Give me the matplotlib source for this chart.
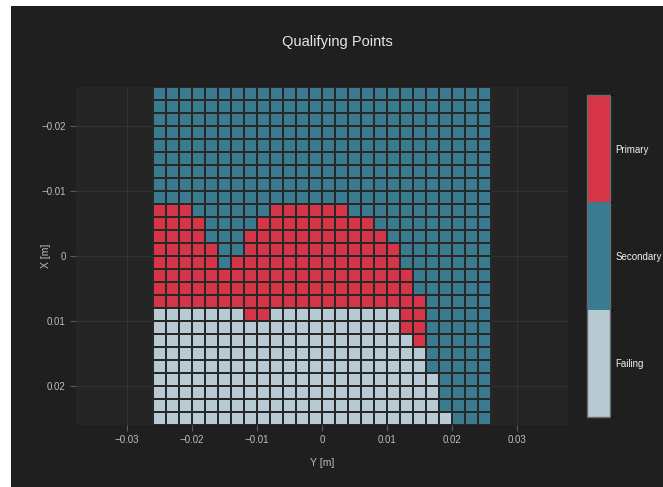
import matplotlib
matplotlib.use("Agg")
import matplotlib.pyplot as plt
import numpy as np
from matplotlib.colors import ListedColormap, BoundaryNorm
from matplotlib.patches import Rectangle

# grid coordinates (cell centres, metres)
y_pos = np.round(np.arange(-0.025, 0.0251, 0.002), 3)   # horizontal axis, "Y [m]"
x_pos = np.round(np.arange(-0.025, 0.0251, 0.002), 3)   # vertical axis, "X [m]"

class_names = ["Failing", "Secondary", "Primary"]
class_colors = ["#b8cad4", "#3b7b90", "#d63547"]

# F = Failing, S = Secondary, P = Primary ; one string per X row (top -> bottom)
rows = [
    "SSSSSSSSSSSSSSSSSSSSSSSSSS",
    "SSSSSSSSSSSSSSSSSSSSSSSSSS",
    "SSSSSSSSSSSSSSSSSSSSSSSSSS",
    "SSSSSSSSSSSSSSSSSSSSSSSSSS",
    "SSSSSSSSSSSSSSSSSSSSSSSSSS",
    "SSSSSSSSSSSSSSSSSSSSSSSSSS",
    "SSSSSSSSSSSSSSSSSSSSSSSSSS",
    "SSSSSSSSSSSSSSSSSSSSSSSSSS",
    "SSSSSSSSSSSSSSSSSSSSSSSSSS",
    "PPPSSSSSSPPPPPPSSSSSSSSSSS",
    "PPPPSSSSPPPPPPPPPSSSSSSSSS",
    "PPPPSSSPPPPPPPPPPPSSSSSSSS",
    "PPPPPSSPPPPPPPPPPPPSSSSSSS",
    "PPPPPSPPPPPPPPPPPPPSSSSSSS",
    "PPPPPPPPPPPPPPPPPPPPSSSSSS",
    "PPPPPPPPPPPPPPPPPPPPSSSSSS",
    "PPPPPPPPPPPPPPPPPPPPPSSSSS",
    "FFFFFFFPPFFFFFFFFFFPPSSSSS",
    "FFFFFFFFFFFFFFFFFFFPPSSSSS",
    "FFFFFFFFFFFFFFFFFFFFPSSSSS",
    "FFFFFFFFFFFFFFFFFFFFFSSSSS",
    "FFFFFFFFFFFFFFFFFFFFFSSSSS",
    "FFFFFFFFFFFFFFFFFFFFFFSSSS",
    "FFFFFFFFFFFFFFFFFFFFFFSSSS",
    "FFFFFFFFFFFFFFFFFFFFFFSSSS",
    "FFFFFFFFFFFFFFFFFFFFFFFSSS",
]
code = {"F": 0, "S": 1, "P": 2}

x_ticks = [-0.03, -0.02, -0.01, 0, 0.01, 0.02, 0.03]
x_tick_labels = ["\u22120.03", "\u22120.02", "\u22120.01", "0", "0.01", "0.02", "0.03"]
y_ticks = [-0.02, -0.01, 0, 0.01, 0.02]
y_tick_labels = ["\u22120.02", "\u22120.01", "0", "0.01", "0.02"]

if __name__ == "__main__":
    z = np.array([[code[c] for c in r] for r in rows])

    paper = "#1f1f1f"
    plot_bg = "#252525"
    text_c = "#bdbdbd"
    plt.rcParams["font.family"] = ["Liberation Sans", "DejaVu Sans"]

    fig = plt.figure(figsize=(6.63, 4.87), dpi=100)
    fig.patch.set_facecolor("white")
    fig.add_artist(Rectangle((11 / 663, 0), 1, 481 / 487, transform=fig.transFigure,
                             facecolor=paper, edgecolor="none", zorder=-10))

    """-----------PLOT-----------"""
    ax = fig.add_axes([76 / 663, 62 / 487, 492 / 663, 338 / 487])
    ax.set_facecolor(plot_bg)

    cmap = ListedColormap(class_colors)
    norm = BoundaryNorm([-0.5, 0.5, 1.5, 2.5], cmap.N)
    ax.pcolormesh(y_pos, x_pos, z, cmap=cmap, norm=norm, shading="nearest",
                  edgecolors="#282828", linewidth=1.4, zorder=2)

    ax.set_xlim(-0.0378, 0.0378)
    ax.set_ylim(0.026, -0.026)

    ax.set_xticks(x_ticks, labels=x_tick_labels)
    ax.set_yticks(y_ticks, labels=y_tick_labels)
    ax.tick_params(colors="#5a5a5a", labelcolor=text_c, labelsize=7, length=4, width=0.8)
    ax.grid(color="#333333", linewidth=0.8, zorder=0)
    ax.set_axisbelow(True)
    for s in ax.spines.values():
        s.set_visible(False)

    ax.set_xlabel("Y [m]", color=text_c, fontsize=7.5, labelpad=9)
    ax.set_ylabel("X [m]", color=text_c, fontsize=7.5)
    ax.yaxis.set_label_coords(-(76 - 51) / 492, 0.5)
    fig.text(0.5 + 6 / 663, 1 - 42 / 487, "Qualifying Points", color="#e6e6e6",
             fontsize=10.5, ha="center", va="center")

    # colourbar
    cax = fig.add_axes([587 / 663, 70 / 487, 23 / 663, 322 / 487])
    sm = plt.cm.ScalarMappable(cmap=cmap, norm=norm)
    cb = fig.colorbar(sm, cax=cax, ticks=[0, 1, 2])
    cb.ax.set_yticklabels(class_names)
    cb.ax.tick_params(length=0, labelcolor="#f0f0f0", labelsize=7, pad=4)
    cb.outline.set_edgecolor("#6a6a6a")
    cb.outline.set_linewidth(1.0)

    plt.savefig("out.png", dpi=100, facecolor=fig.get_facecolor())
    """---------END PLOT---------"""
